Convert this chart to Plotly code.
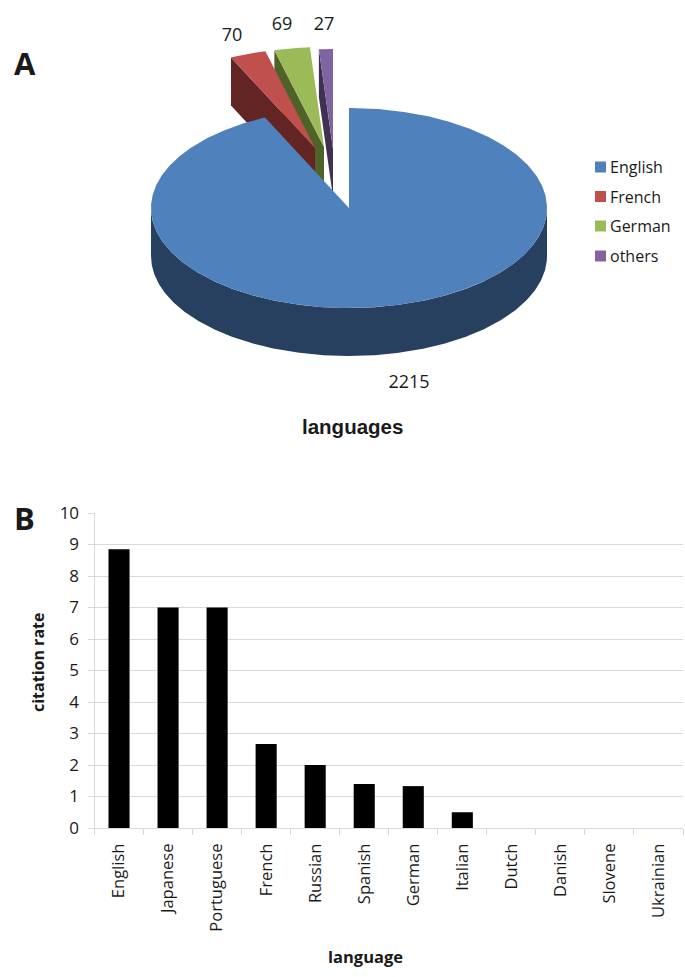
import math
import plotly.graph_objects as go

# ---- data ----
pie_labels = ["English", "French", "German", "others"]
pie_values = [2215, 70, 69, 27]
bar_languages = ["English", "Japanese", "Portuguese", "French", "Russian", "Spanish",
                 "German", "Italian", "Dutch", "Danish", "Slovene", "Ukrainian"]
bar_rates = [8.85, 7, 7, 2.67, 2, 1.4, 1.33, 0.5, 0, 0, 0, 0]
y_ticks = list(range(0, 11))

# ---- styles ----
W, H = 685, 977
top_cols = ["#4F81BD", "#C0504D", "#9BBB59", "#8064A2"]
side_cols = ["#27405F", "#632523", "#4F6228", "#403152"]
TXT = "#1a1a1a"
BODY = "Open Sans, Noto Sans, sans-serif"
RX, RY, DEPTH = 198, 100, 48
apexes = [(349, 208), (315, 148), (324, 147), (333, 149)]
label_pos = [(409, 383), (232, 36), (282, 25), (324, 25)]
key_x = 600.5
key_text_x = 610
key_y = [167, 196.5, 226, 256]
key_text_y = [169, 198.5, 228, 258]


def pt(c, deg, dy=0):
    a = math.radians(deg)
    return c[0] + RX * math.sin(a), c[1] - RY * math.cos(a) + dy


def arc(c, a0, a1, dy=0):
    n = max(2, int(abs(a1 - a0)) * 2)
    return [pt(c, a0 + (a1 - a0) * i / n, dy) for i in range(n + 1)]


def poly(points, color):
    return go.Scatter(x=[p[0] for p in points] + [points[0][0]],
                      y=[p[1] for p in points] + [points[0][1]],
                      mode="lines", fill="toself", fillcolor=color,
                      line=dict(width=0, color=color), hoverinfo="skip",
                      showlegend=False, xaxis="x2", yaxis="y2")


total = sum(pie_values)
angles = [0]
for v in pie_values:
    angles.append(angles[-1] + 360 * v / total)

fig = go.Figure()

# exploded slices, back to front
for i in (3, 2, 1):
    c = apexes[i]
    a0, a1 = angles[i], angles[i + 1]
    o = pt(c, a0)
    fig.add_trace(poly([c, o, (o[0], o[1] + DEPTH), (c[0], c[1] + DEPTH)], side_cols[i]))
    fig.add_trace(poly([c] + arc(c, a0, a1), top_cols[i]))

# main slice: wall then top
c = apexes[0]
fig.add_trace(poly(arc(c, 90, 270) + arc(c, 270, 90, DEPTH), side_cols[0]))
fig.add_trace(poly([c] + arc(c, angles[0], angles[1]), top_cols[0]))

# value labels
fig.add_trace(go.Scatter(x=[p[0] for p in label_pos], y=[p[1] for p in label_pos],
                         text=[str(v) for v in pie_values], mode="text",
                         textfont=dict(family=BODY, size=18, color=TXT),
                         textposition="middle center", hoverinfo="skip",
                         showlegend=False, xaxis="x2", yaxis="y2"))

# key beside the pie
fig.add_trace(go.Scatter(x=[key_x] * len(pie_labels), y=key_y,
                         mode="markers",
                         marker=dict(symbol="square", size=11, color=top_cols, line=dict(width=0)),
                         hoverinfo="skip", showlegend=False, xaxis="x2", yaxis="y2"))
fig.add_trace(go.Scatter(x=[key_text_x] * len(pie_labels), y=key_text_y, text=pie_labels,
                         mode="text", textposition="middle right",
                         textfont=dict(family=BODY, size=16, color=TXT),
                         hoverinfo="skip", showlegend=False, xaxis="x2", yaxis="y2"))

# bars
fig.add_trace(go.Bar(x=bar_languages, y=bar_rates, marker=dict(color="#000000", line=dict(width=0)),
                     showlegend=False, xaxis="x", yaxis="y"))

fig.update_layout(
    width=W, height=H, margin=dict(l=0, r=0, t=0, b=0, autoexpand=False),
    paper_bgcolor="white", plot_bgcolor="rgba(0,0,0,0)", bargap=0.57, showlegend=False,
    font=dict(family=BODY, color=TXT),
    xaxis=dict(domain=[94.5 / W, 683 / W], anchor="y", type="category", tickson="boundaries",
               ticks="outside", ticklen=6, tickcolor="#d9d9d9", linecolor="#d9d9d9", showline=True,
               tickangle=-90, tickfont=dict(family=BODY, size=16.5, color=TXT), showgrid=False,
               automargin=False, ticklabelstandoff=8),
    yaxis=dict(domain=[(H - 828) / H, (H - 513) / H], anchor="x", range=[0, 10],
               tickmode="array", tickvals=y_ticks, ticktext=[str(t) for t in y_ticks],
               ticks="outside", ticklen=6, tickcolor="#d9d9d9", linecolor="#d9d9d9", showline=True,
               gridcolor="#d9d9d9", gridwidth=1, zeroline=False, automargin=False,
               tickfont=dict(family=BODY, size=17, color=TXT), ticklabelstandoff=5),
    xaxis2=dict(domain=[0, 1], anchor="y2", range=[0, W], visible=False, fixedrange=True),
    yaxis2=dict(domain=[0, 1], anchor="x2", range=[H, 0], visible=False, fixedrange=True),
    annotations=[
        dict(text="<b>languages</b>", x=353 / W, y=1 - 426 / H, xref="paper", yref="paper",
             xanchor="center", yanchor="middle", showarrow=False,
             font=dict(family="Liberation Sans, Arial, sans-serif", size=20.5, color=TXT)),
        dict(text="<b>A</b>", x=25 / W, y=1 - 63 / H, xref="paper", yref="paper",
             xanchor="center", yanchor="middle", showarrow=False,
             font=dict(family=BODY, size=31, color=TXT)),
        dict(text="<b>B</b>", x=25 / W, y=1 - 518 / H, xref="paper", yref="paper",
             xanchor="center", yanchor="middle", showarrow=False,
             font=dict(family=BODY, size=31, color=TXT)),
        dict(text="<b>language</b>", x=365 / W, y=1 - 956 / H, xref="paper", yref="paper",
             xanchor="center", yanchor="middle", showarrow=False,
             font=dict(family=BODY, size=16.5, color=TXT)),
        dict(text="<b>citation rate</b>", x=38 / W, y=1 - 663 / H, xref="paper", yref="paper",
             xanchor="center", yanchor="middle", showarrow=False, textangle=-90,
             font=dict(family=BODY, size=16, color=TXT)),
    ],
)

fig.write_html("out.html", config=dict(displayModeBar=False),
               post_script="document.body.style.margin='0';")
